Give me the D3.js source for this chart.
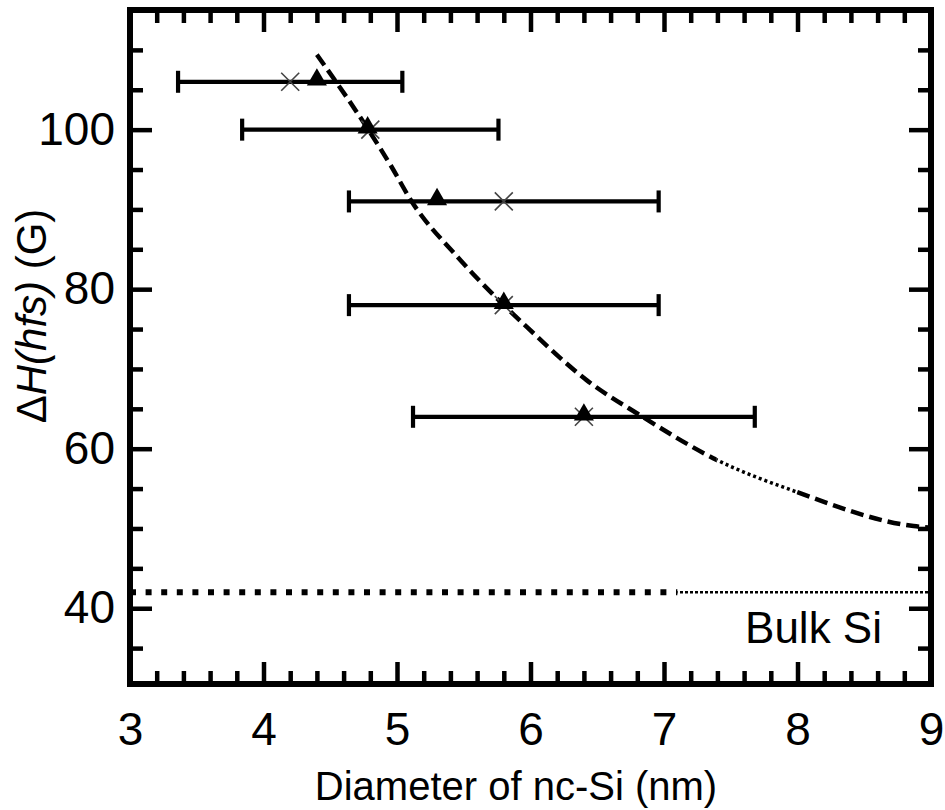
<!DOCTYPE html>
<html>
<head>
<meta charset="utf-8">
<script src="https://cdn.jsdelivr.net/npm/d3@7"></script>
<style>
  body { margin: 0; background: #fff; }
  text { font-family: "Liberation Sans", Arial, Helvetica, sans-serif; fill: #000; }
</style>
</head>
<body>
<div id="graph-container"></div>
<script>
// Data
var crossX = [4.2, 4.8, 5.8, 5.8, 6.4];        // x markers
var triX = [4.4, 4.78, 5.3, 5.8, 6.4];         // filled triangles
var pointY = [106, 100, 91, 78, 64];           // ΔH(hfs) in G
var errHalf = [0.84, 0.96, 1.16, 1.16, 1.28];  // horizontal error (±, around the x markers)

// dashed guide curve
var curveX = [4.40, 4.785, 4.95, 5.11, 5.45, 5.80, 5.97, 6.42, 6.82, 7.395, 7.99, 8.87, 9.0];
var curveY = [109.4, 100.0, 95.6, 91.0, 84.1, 78.0, 75.3, 68.6, 64.2, 58.6, 54.6, 50.3, 50.1];

var bulkY = 42;
var xTicks = [3, 4, 5, 6, 7, 8, 9];
var yTicks = [40, 60, 80, 100];

var width = 945;
var height = 810;
var plot = { left: 130, right: 931, top: 10, bottom: 684 };

var svg = d3.select("#graph-container")
            .append("svg")
            .attr("width", width)
            .attr("height", height);

var xScale = d3.scaleLinear().domain([3, 9]).range([plot.left, plot.right]);
var yScale = d3.scaleLinear().domain([30.5, 115]).range([plot.bottom, plot.top]);

var xMinor = d3.range(3, 9.001, 0.2).filter(function(v) { return Math.abs(v - Math.round(v)) > 0.01; });
var yMinor = d3.range(35, 115, 5).filter(function(v) { return v % 20 !== 0; });
var yMajor = d3.range(40, 115, 20);

// clip paths for the curve pieces (the original draws one stretch dotted)
var defs = svg.append("defs");
function clipRange(id, x0, x1) {
  defs.append("clipPath").attr("id", id)
      .append("rect")
      .attr("x", xScale(x0)).attr("y", 0)
      .attr("width", xScale(x1) - xScale(x0)).attr("height", height);
}
clipRange("c1", 3, 7.395);
clipRange("c2", 7.395, 7.99);
clipRange("c3", 7.99, 9.2);
clipRange("b1", 3, 7.1);
clipRange("b2", 7.1, 9);

// bulk Si line
var bulkLine = d3.line().x(function(d) { return xScale(d); }).y(yScale(bulkY));
svg.append("path")
   .attr("d", bulkLine([3, 9]))
   .attr("clip-path", "url(#b1)")
   .attr("stroke", "#000").attr("stroke-width", 6)
   .attr("stroke-dasharray", "6,9.6").attr("fill", "none");
svg.append("path")
   .attr("d", bulkLine([3, 9]))
   .attr("clip-path", "url(#b2)")
   .attr("stroke", "#000").attr("stroke-width", 2.5)
   .attr("stroke-dasharray", "3,2").attr("fill", "none");

svg.append("text")
   .attr("x", 882).attr("y", 643)
   .attr("text-anchor", "end")
   .attr("font-size", 44)
   .text("Bulk Si");

// guide curve
var curvePts = curveX.map(function(x, i) { return [x, curveY[i]]; });
var line = d3.line()
             .x(function(d) { return xScale(d[0]); })
             .y(function(d) { return yScale(d[1]); })
             .curve(d3.curveMonotoneX);
svg.append("path").attr("d", line(curvePts)).attr("clip-path", "url(#c1)")
   .attr("stroke", "#000").attr("stroke-width", 4.5)
   .attr("stroke-dasharray", "13,6").attr("fill", "none");
svg.append("path").attr("d", line(curvePts)).attr("clip-path", "url(#c2)")
   .attr("stroke", "#000").attr("stroke-width", 3.5)
   .attr("stroke-dasharray", "3,3").attr("fill", "none");
svg.append("path").attr("d", line(curvePts)).attr("clip-path", "url(#c3)")
   .attr("stroke", "#000").attr("stroke-width", 4.5)
   .attr("stroke-dasharray", "13,6").attr("fill", "none");

// error bars
var bars = svg.append("g").attr("stroke", "#000").attr("stroke-width", 4.2);
crossX.forEach(function(x, i) {
  var y = yScale(pointY[i]);
  var x0 = xScale(x - errHalf[i]);
  var x1 = xScale(x + errHalf[i]);
  bars.append("line").attr("x1", x0).attr("x2", x1).attr("y1", y).attr("y2", y);
  bars.append("line").attr("x1", x0).attr("x2", x0).attr("y1", y - 11).attr("y2", y + 11);
  bars.append("line").attr("x1", x1).attr("x2", x1).attr("y1", y - 11).attr("y2", y + 11);
});

// x markers
svg.selectAll(".cross")
   .data(crossX)
   .enter()
   .append("path")
   .attr("class", "cross")
   .attr("d", function(d, i) {
     var cx = xScale(d), cy = yScale(pointY[i]), s = 9;
     return "M" + (cx - s) + "," + (cy - s) + "L" + (cx + s) + "," + (cy + s) +
            "M" + (cx - s) + "," + (cy + s) + "L" + (cx + s) + "," + (cy - s);
   })
   .attr("stroke", "#444")
   .attr("stroke-width", 1.6)
   .attr("fill", "none");

// triangles
svg.selectAll(".tri")
   .data(triX)
   .enter()
   .append("path")
   .attr("class", "tri")
   .attr("d", d3.symbol().type(d3.symbolTriangle).size(175))
   .attr("transform", function(d, i) {
     return "translate(" + xScale(d) + "," + (yScale(pointY[i]) - 2) + ")";
   })
   .attr("fill", "#000");

// inward ticks on all four sides
function ticks(axis, values, size, transform) {
  var g = svg.append("g")
     .attr("transform", transform)
     .call(axis.tickValues(values).tickSize(-size).tickFormat(""));
  g.select(".domain").remove();
  g.selectAll("line").attr("stroke", "#000").attr("stroke-width", 4.5);
}
ticks(d3.axisBottom(xScale), xTicks, 22, "translate(0," + plot.bottom + ")");
ticks(d3.axisBottom(xScale), xMinor, 13, "translate(0," + plot.bottom + ")");
ticks(d3.axisTop(xScale), xTicks, 22, "translate(0," + plot.top + ")");
ticks(d3.axisTop(xScale), xMinor, 13, "translate(0," + plot.top + ")");
ticks(d3.axisLeft(yScale), yMajor, 22, "translate(" + plot.left + ",0)");
ticks(d3.axisLeft(yScale), yMinor, 13, "translate(" + plot.left + ",0)");
ticks(d3.axisRight(yScale), yMajor, 22, "translate(" + plot.right + ",0)");
ticks(d3.axisRight(yScale), yMinor, 13, "translate(" + plot.right + ",0)");

// frame
svg.append("rect")
   .attr("x", plot.left).attr("y", plot.top)
   .attr("width", plot.right - plot.left)
   .attr("height", plot.bottom - plot.top)
   .attr("fill", "none")
   .attr("stroke", "#000")
   .attr("stroke-width", 6);

// tick labels
var xAxis = svg.append("g")
   .attr("transform", "translate(0," + plot.bottom + ")")
   .call(d3.axisBottom(xScale).tickValues(xTicks).tickSize(0).tickPadding(28).tickFormat(d3.format("d")));
xAxis.select(".domain").remove();
xAxis.selectAll("text").attr("font-size", 46).attr("font-family", null);

var yAxis = svg.append("g")
   .attr("transform", "translate(" + plot.left + ",0)")
   .call(d3.axisLeft(yScale).tickValues(yTicks).tickSize(0).tickPadding(15).tickFormat(d3.format("d")));
yAxis.select(".domain").remove();
yAxis.selectAll("text").attr("font-size", 46).attr("font-family", null);

// axis titles
svg.append("text")
   .attr("x", 516).attr("y", 800)
   .attr("text-anchor", "middle")
   .attr("font-size", 40)
   .text("Diameter of nc-Si (nm)");

var yTitle = svg.append("text")
   .attr("transform", "translate(46,316) rotate(-90)")
   .attr("text-anchor", "middle")
   .attr("font-size", 42);
yTitle.append("tspan").text("Δ");
yTitle.append("tspan").attr("font-style", "italic").text("H(hfs)");
yTitle.append("tspan").text(" (G)");
</script>
</body>
</html>
